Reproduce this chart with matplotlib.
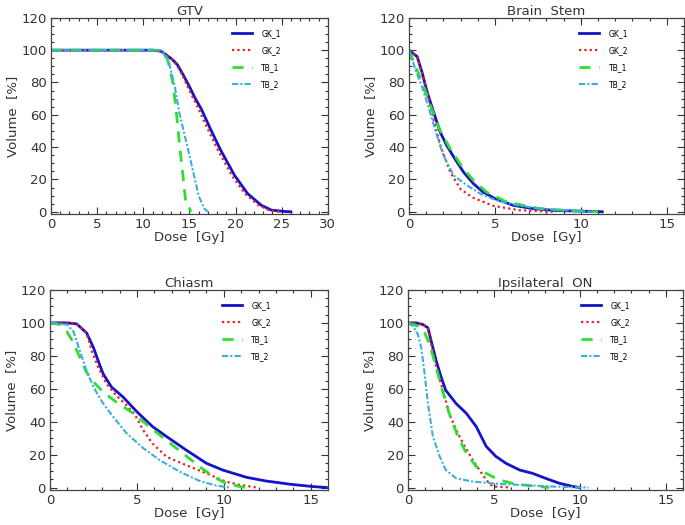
import matplotlib.pyplot as plt

# ---- data (dose in Gy, volume in %) ----
series_labels = ["GK_1", "GK_2", "TB_1", "TB_2"]

# GTV
gtv_gk1_dose = [0, 11.0, 11.9, 12.5, 13.1, 13.7, 14.3, 15.0, 15.6, 16.3, 17.3, 18.4, 19.9, 21.3, 22.8, 23.9, 25.3, 26.0]
gtv_gk1_vol = [100, 100, 99.4, 97, 94.5, 91, 85, 77.5, 70.5, 63.5, 51, 38, 22.5, 11.3, 4, 1, 0.2, 0]
gtv_gk2_dose = [0, 11.0, 11.9, 12.5, 13.05, 13.6, 14.2, 14.8, 15.4, 16.0, 17.0, 18.1, 19.6, 21.0, 22.5, 23.6, 24.6, 25.0]
gtv_gk2_vol = [100, 100, 99.4, 97, 94.5, 91, 85, 77.5, 70.5, 63.5, 51, 38, 22.5, 11.3, 4, 1, 0.2, 0]
gtv_tb1_dose = [0, 12.0, 12.65, 13.2, 13.55, 13.9, 14.3, 14.6, 15.2]
gtv_tb1_vol = [100, 100, 94, 80, 64, 43, 22.5, 6, 0]
gtv_tb2_dose = [0, 12.0, 12.8, 13.4, 13.9, 14.5, 15.0, 15.5, 16.0, 16.6, 17.0]
gtv_tb2_vol = [100, 100, 92, 78, 61.5, 47, 35, 22.5, 10, 2, 0]

# Brain Stem
bs_gk1_dose = [0, 0.48, 0.77, 1.06, 1.44, 1.83, 2.2, 2.6, 3.17, 3.75, 4.3, 5.0, 6.06, 7.2, 8.5, 10.0, 11.25]
bs_gk1_vol = [100, 96, 86, 74, 61.5, 49, 41, 34, 24.6, 17.4, 12.3, 8.2, 4, 2, 0.8, 0.4, 0]
bs_gk2_dose = [0, 0.48, 0.77, 1.06, 1.44, 1.83, 2.4, 3.0, 3.75, 4.9, 6.4, 8.4]
bs_gk2_vol = [100, 96, 86, 74, 57, 41, 24.6, 14, 8.6, 3.7, 1, 0]
bs_tb1_dose = [0, 0.38, 0.77, 1.25, 1.83, 2.4, 3.17, 3.75, 4.5, 5.7, 7.6, 9.5, 11.0]
bs_tb1_vol = [100, 90, 80, 65.6, 50, 39, 26.6, 19.5, 12.3, 6, 2, 0.6, 0]
bs_tb2_dose = [0, 0.38, 0.77, 1.15, 1.63, 2.0, 2.6, 3.37, 4.13, 5.1, 6.44, 8.0, 9.9, 10.7]
bs_tb2_vol = [100, 88, 77, 64.5, 47, 35, 22.5, 16.4, 11.3, 7, 3.7, 1.6, 0.5, 0]

# Chiasm
ch_gk1_dose = [0, 0.96, 1.53, 2.1, 2.5, 2.77, 3.06, 3.54, 4.2, 5.0, 5.9, 6.7, 7.8, 9.0, 9.94, 11.3, 12.4, 13.8, 15.1, 15.9]
ch_gk1_vol = [100, 100, 99.4, 94, 85, 77, 69, 61, 55, 46, 37, 31, 23, 14.7, 10.6, 6.2, 4, 2, 0.6, 0]
ch_gk2_dose = [0, 0.96, 1.53, 2.1, 2.4, 2.77, 3.25, 3.8, 4.4, 4.9, 5.35, 5.9, 6.7, 7.8, 9.0, 10.1, 10.9, 11.9]
ch_gk2_vol = [100, 100, 99.4, 94, 83, 73, 63, 56, 50, 44, 35, 26.7, 18.7, 13.7, 8.6, 3.6, 1.6, 0]
ch_tb1_dose = [0, 0.57, 0.96, 1.34, 1.72, 2.1, 2.6, 3.06, 3.8, 4.8, 5.7, 6.7, 7.65, 8.6, 9.4, 10.1, 10.9, 11.3]
ch_tb1_vol = [100, 99, 95, 88, 79, 70, 63, 58, 52, 45, 37, 28.7, 20.7, 12.7, 6.6, 2.6, 0.6, 0]
ch_tb2_dose = [0, 0.96, 1.34, 1.72, 2.1, 2.5, 3.06, 3.63, 4.4, 5.35, 6.3, 7.46, 8.6, 9.56, 10.3]
ch_tb2_vol = [100, 99, 95, 83, 71, 61, 51, 43, 33, 24, 16.7, 9.6, 4, 1.2, 0]

# Ipsilateral ON
on_gk1_dose = [0, 0.48, 0.87, 1.16, 1.35, 1.64, 1.93, 2.2, 2.8, 3.4, 3.97, 4.55, 5.1, 5.7, 6.5, 7.25, 8.0, 8.8, 9.6, 10.0]
on_gk1_vol = [100, 100, 99, 97, 89, 77, 67, 59, 51, 45, 37, 25, 19, 14.7, 10.6, 8.6, 5.6, 2.6, 0.6, 0]
on_gk2_dose = [0, 0.48, 0.97, 1.16, 1.35, 1.64, 2.03, 2.4, 2.8, 3.3, 3.77, 4.16, 4.55, 4.93, 5.7, 6.0]
on_gk2_vol = [100, 100, 98.6, 97, 87, 73, 59, 45, 35, 25, 16.7, 10.6, 4.6, 0.6, 0.2, 0]
on_tb1_dose = [0, 0.58, 0.97, 1.26, 1.64, 2.03, 2.4, 2.9, 3.4, 3.97, 4.55, 5.3, 6.3, 7.6, 8.2]
on_tb1_vol = [100, 98, 94, 87, 73, 58, 45, 31, 20.7, 12.7, 8.6, 4.6, 2, 0.6, 0]
on_tb2_dose = [0, 0.29, 0.58, 0.77, 0.97, 1.16, 1.45, 1.84, 2.2, 2.8, 3.77, 5.3, 6.9, 8.4, 9.6, 10.5]
on_tb2_vol = [100, 98, 93, 85, 69, 51, 31, 19, 10.6, 5.6, 3.6, 2.2, 1.4, 0.6, 0.2, 0]

panels = [
    ("GTV", 30, [(gtv_gk1_dose, gtv_gk1_vol), (gtv_gk2_dose, gtv_gk2_vol),
                 (gtv_tb1_dose, gtv_tb1_vol), (gtv_tb2_dose, gtv_tb2_vol)]),
    ("Brain  Stem", 16, [(bs_gk1_dose, bs_gk1_vol), (bs_gk2_dose, bs_gk2_vol),
                         (bs_tb1_dose, bs_tb1_vol), (bs_tb2_dose, bs_tb2_vol)]),
    ("Chiasm", 16, [(ch_gk1_dose, ch_gk1_vol), (ch_gk2_dose, ch_gk2_vol),
                    (ch_tb1_dose, ch_tb1_vol), (ch_tb2_dose, ch_tb2_vol)]),
    ("Ipsilateral  ON", 16, [(on_gk1_dose, on_gk1_vol), (on_gk2_dose, on_gk2_vol),
                             (on_tb1_dose, on_tb1_vol), (on_tb2_dose, on_tb2_vol)]),
]

# ---- styling ----
colors = ["#1414c8", "#e82020", "#2ee02e", "#3aaee0"]
styles = ["-", (0, (1, 1.4)), (0, (4, 3)), (0, (3, 1, 1, 1))]
widths = [2.0, 1.6, 2.0, 1.5]

# axes rectangles in figure fractions (left, bottom, width, height)
rects = [
    (0.0745, 0.592, 0.404, 0.374),
    (0.597, 0.592, 0.4015, 0.374),
    (0.073, 0.0667, 0.406, 0.381),
    (0.5956, 0.0667, 0.4015, 0.381),
]
legend_x = [0.655, 0.62, 0.62, 0.63]

plt.rcParams["font.family"] = "DejaVu Sans"
fig = plt.figure(figsize=(6.85, 5.25), dpi=100)

for (title, xmax, curves), rect, lx in zip(panels, rects, legend_x):
    ax = fig.add_axes(rect)
    for (d, v), lab, c, ls, lw in zip(curves, series_labels, colors, styles, widths):
        ax.plot(d, v, color=c, linestyle=ls, linewidth=lw, label=lab)

    ax.set_xlim(0, xmax)
    ax.set_ylim(-1.5, 120)
    ax.set_xticks(range(0, xmax + 1, 5))
    ax.set_xticks(range(0, xmax + 1, 1), minor=True)
    ax.set_yticks(range(0, 121, 20))
    ax.set_yticks(range(0, 121, 5), minor=True)
    ax.tick_params(which="both", direction="in", top=True, right=True,
                   labelsize=9.5, colors="#333333", pad=3)
    ax.tick_params(which="major", length=5, width=0.8)
    ax.tick_params(which="minor", length=2.5, width=0.8)
    for sp in ax.spines.values():
        sp.set_color("#444444")
        sp.set_linewidth(0.9)

    ax.set_title(title, fontsize=9.5, color="#333333", pad=2)
    ax.set_xlabel("Dose  [Gy]", fontsize=9.5, color="#333333", labelpad=0)
    ax.set_ylabel("Volume  [%]", fontsize=9.5, color="#333333", labelpad=2)

    ax.legend(loc="upper left", bbox_to_anchor=(lx, 0.945), frameon=False,
              fontsize=5.5, handlelength=2.6, handletextpad=1.2,
              labelspacing=1.05, borderpad=0, borderaxespad=0)

fig.savefig("out.png", dpi=100)
